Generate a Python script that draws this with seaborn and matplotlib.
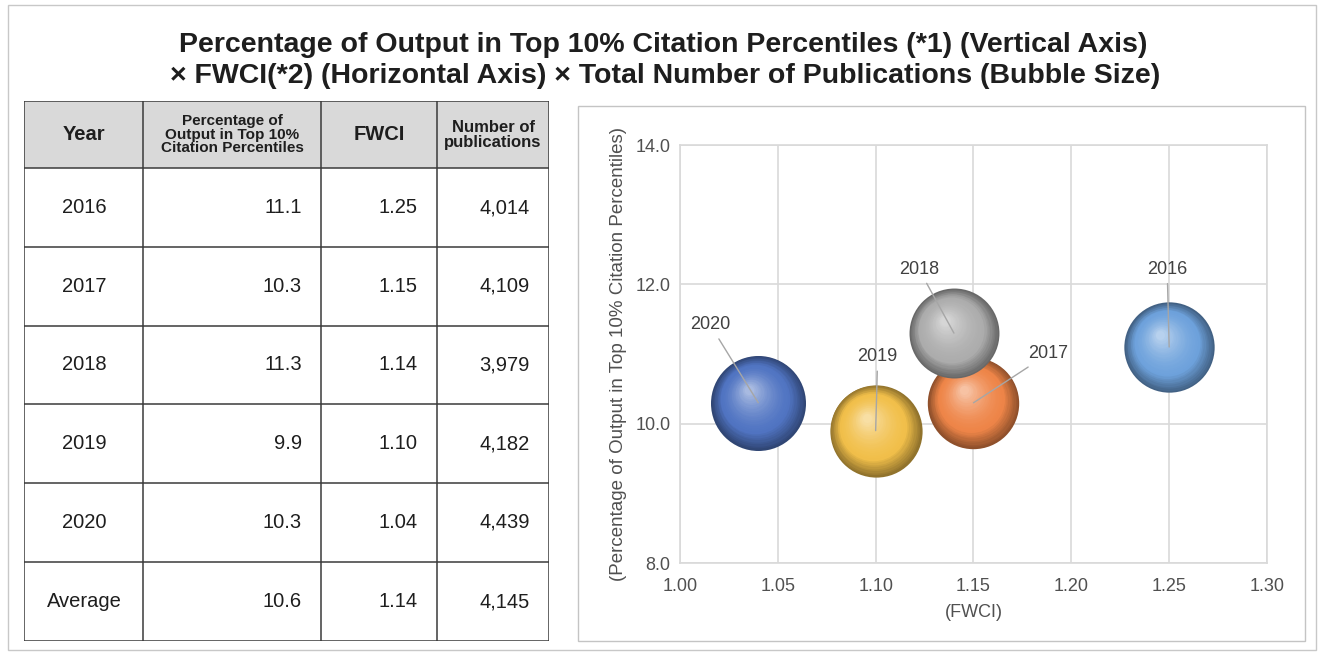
import numpy as np
import matplotlib.pyplot as plt
import matplotlib.transforms as mtransforms
from matplotlib.colors import to_rgb
from matplotlib.patches import Rectangle
import seaborn as sns

# data
years = ["2016", "2017", "2018", "2019", "2020"]
pct_top10 = [11.1, 10.3, 11.3, 9.9, 10.3]
fwci = [1.25, 1.15, 1.14, 1.10, 1.04]
pubs = [4014, 4109, 3979, 4182, 4439]
avg_row = ["Average", "10.6", "1.14", "4,145"]
bubble_colors = ["#6ea2dc", "#ee8548", "#adadad", "#f1bf4a", "#5074c2"]
label_offsets = [(-2, 78), (55, 49), (-15, 64), (2, 74), (-28, 78)]  # pixels

sns.set_theme(style="white")
plt.rcParams["font.family"] = ["Liberation Sans", "DejaVu Sans"]

fig = plt.figure(figsize=(13.22, 6.53), dpi=100)
W, H = 1322, 653

def fx(px):
    return px / W

def fy(py):
    return 1 - py / H

# outer frame + chart panel frame
fig.patches.append(Rectangle((fx(8), fy(650)), fx(1316) - fx(8), fy(5) - fy(650),
                             transform=fig.transFigure, fill=False, ec="#c8c8c8", lw=1))
fig.patches.append(Rectangle((fx(578), fy(641)), fx(1305) - fx(578), fy(106) - fy(641),
                             transform=fig.transFigure, fill=False, ec="#c4c4c4", lw=1))

# title
fig.text(fx(663), fy(45), "Percentage of Output in Top 10% Citation Percentiles (*1) (Vertical Axis)",
         ha="center", va="center", fontsize=20.5, weight="bold", color="#1e1e1e")
fig.text(fx(665), fy(76), "× FWCI(*2) (Horizontal Axis) × Total Number of Publications (Bubble Size)",
         ha="center", va="center", fontsize=20.5, weight="bold", color="#1e1e1e")

# ---------- table ----------
tab = fig.add_axes([fx(24), fy(641), fx(549) - fx(24), fy(101) - fy(641)])
tab.set_xlim(24, 549)
tab.set_ylim(641, 101)
tab.axis("off")
cols_x = [24, 143, 321, 437, 549]
rows_y = [101, 168, 247, 326, 404, 483, 562, 641]
tab.add_patch(Rectangle((24, 101), 525, 67, fc="#d9d9d9", ec="none"))
for x in cols_x:
    tab.plot([x, x], [101, 641], color="#3a3a3a", lw=1.1)
for y in rows_y:
    tab.plot([24, 549], [y, y], color="#3a3a3a", lw=1.1)

hy = (101 + 168) / 2
tab.text(84, hy, "Year", ha="center", va="center", fontsize=14.5, weight="bold", color="#1e1e1e")
tab.text(232, hy, "Percentage of\nOutput in Top 10%\nCitation Percentiles", ha="center", va="center",
         fontsize=11, weight="bold", color="#1e1e1e", linespacing=0.95)
tab.text(379, hy, "FWCI", ha="center", va="center", fontsize=14.5, weight="bold", color="#1e1e1e")
tab.text(493, hy, "Number of\npublications", ha="center", va="center", fontsize=12,
         weight="bold", color="#1e1e1e", linespacing=1.0)

body_rows = [[y, f"{p:.1f}", f"{f:.2f}", f"{n:,}"] for y, p, f, n in zip(years, pct_top10, fwci, pubs)]
body_rows.append(avg_row)
for i, row in enumerate(body_rows):
    cy = (rows_y[i + 1] + rows_y[i + 2]) / 2
    tab.text(84, cy, row[0], ha="center", va="center", fontsize=14.5, color="#1e1e1e")
    for j, val in enumerate(row[1:]):
        tab.text(cols_x[j + 2] - 19, cy, val, ha="right", va="center", fontsize=14.5, color="#1e1e1e")

# ---------- bubble chart ----------
ax = fig.add_axes([fx(680), fy(563), fx(1267) - fx(680), fy(145) - fy(563)])
ax.set_xlim(1.00, 1.30)
ax.set_ylim(8.0, 14.0)
ax.set_xticks(np.arange(1.00, 1.301, 0.05))
ax.set_yticks([8.0, 10.0, 12.0, 14.0])
ax.xaxis.set_major_formatter(plt.FormatStrFormatter("%.2f"))
ax.yaxis.set_major_formatter(plt.FormatStrFormatter("%.1f"))
ax.grid(True, color="#d9d9d9", lw=1.2)
ax.set_axisbelow(True)
for sp in ax.spines.values():
    sp.set_color("#d9d9d9")
    sp.set_linewidth(1.2)
ax.tick_params(length=0, labelsize=13, colors="#505050")
ax.tick_params(axis="x", pad=11)
ax.tick_params(axis="y", pad=7)
ax.set_xlabel("(FWCI)", fontsize=13, color="#505050", labelpad=6)
ax.set_ylabel("(Percentage of Output in Top 10% Citation Percentiles)", fontsize=13.5,
              color="#505050", labelpad=6)

max_d_pt = 95 * 0.72
order = np.argsort(pubs)[::-1]
n_layers = 28
for z, i in enumerate(order):
    s_base = (max_d_pt ** 2) * pubs[i] / max(pubs)
    r_pt = np.sqrt(s_base) / 2
    base = np.array(to_rgb(bubble_colors[i]))
    rim = base * 0.6
    sns.scatterplot(x=[fwci[i]], y=[pct_top10[i]], s=s_base, color=rim, linewidth=0,
                    zorder=3 + z * 2, ax=ax, legend=False)
    for k in range(1, n_layers):
        t = k / (n_layers - 1)
        f = 1 - 0.9 * t
        if t < 0.3:
            c = rim + (base - rim) * (t / 0.3)
        else:
            c = base + (np.ones(3) - base) * 0.5 * ((t - 0.3) / 0.7) ** 1.6
        dx = -(1 - f) * r_pt * 0.22
        dy = (1 - f) * r_pt * 0.3
        tr = mtransforms.offset_copy(ax.transData, fig=fig, x=dx, y=dy, units="points")
        ax.scatter([fwci[i]], [pct_top10[i]], s=s_base * f ** 2, color=[np.clip(c, 0, 1)],
                   linewidths=0, transform=tr, zorder=3 + z * 2)

for i, yr in enumerate(years):
    ox, oy = label_offsets[i]
    ha = "center"
    if ox < -10:
        ha = "right"
    elif ox > 10:
        ha = "left"
    ax.annotate(yr, xy=(fwci[i], pct_top10[i]), xytext=(ox, oy), textcoords="offset pixels",
                ha=ha, va="center", fontsize=13, color="#404040", zorder=20,
                arrowprops=dict(arrowstyle="-", color="#a6a6a6", lw=1, shrinkA=2, shrinkB=0))

fig.savefig("out.png", dpi=100)
